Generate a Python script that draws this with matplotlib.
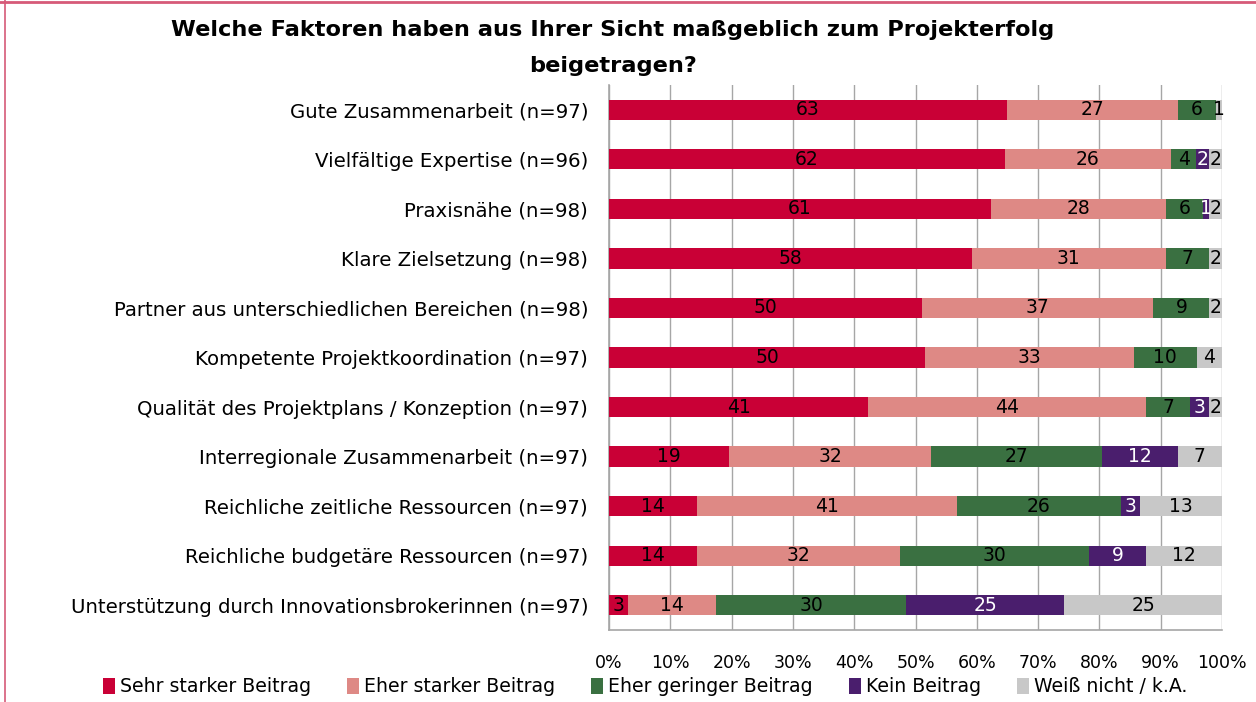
import matplotlib
matplotlib.use("Agg")
import matplotlib.pyplot as plt
import numpy as np
from matplotlib.patches import Patch
from matplotlib.lines import Line2D

categories = [
    "Gute Zusammenarbeit (n=97)",
    "Vielfältige Expertise (n=96)",
    "Praxisnähe (n=98)",
    "Klare Zielsetzung (n=98)",
    "Partner aus unterschiedlichen Bereichen (n=98)",
    "Kompetente Projektkoordination (n=97)",
    "Qualität des Projektplans / Konzeption (n=97)",
    "Interregionale Zusammenarbeit (n=97)",
    "Reichliche zeitliche Ressourcen (n=97)",
    "Reichliche budgetäre Ressourcen (n=97)",
    "Unterstützung durch Innovationsbrokerinnen (n=97)",
]
series_names = ["Sehr starker Beitrag", "Eher starker Beitrag", "Eher geringer Beitrag",
                "Kein Beitrag", "Weiß nicht / k.A."]
sehr_stark = [63, 62, 61, 58, 50, 50, 41, 19, 14, 14, 3]
eher_stark = [27, 26, 28, 31, 37, 33, 44, 32, 41, 32, 14]
eher_gering = [6, 4, 6, 7, 9, 10, 7, 27, 26, 30, 30]
kein = [0, 2, 1, 0, 0, 0, 3, 12, 3, 9, 25]
weiss_nicht = [1, 2, 2, 2, 2, 4, 2, 7, 13, 12, 25]
x_ticks = [0, 10, 20, 30, 40, 50, 60, 70, 80, 90, 100]
x_tick_labels = ["0%", "10%", "20%", "30%", "40%", "50%", "60%", "70%", "80%", "90%", "100%"]
title = "Welche Faktoren haben aus Ihrer Sicht maßgeblich zum Projekterfolg\nbeigetragen?"

colors = ["#C90036", "#DE8985", "#3A7041", "#4A1E6D", "#C8C8C8"]
text_colors = ["black", "black", "black", "white", "black"]

plt.rcParams['font.family'] = ['DejaVu Sans']
fig = plt.figure(figsize=(12.56, 7.02), dpi=100)
ax = fig.add_axes([609/1256, 1-630/702, (1222-609)/1256, (630-85)/702])

data = np.array([sehr_stark, eher_stark, eher_gering, kein, weiss_nicht], dtype=float)
totals = data.sum(axis=0)
pct = data / totals * 100
y = np.arange(len(categories))
left = np.zeros(len(categories))
for i in range(len(series_names)):
    ax.barh(y, pct[i], left=left, height=0.41, color=colors[i], zorder=3,
            edgecolor="none", label=series_names[i])
    for j in range(len(categories)):
        if data[i, j] > 0:
            ax.text(left[j] + pct[i, j] / 2, y[j], f"{int(data[i, j])}",
                    ha="center", va="center", fontsize=13.5, color=text_colors[i], zorder=4)
    left += pct[i]

ax.set_ylim(len(categories) - 0.5, -0.5)
ax.set_xlim(0, 100)
ax.set_yticks(y)
ax.set_yticklabels(categories, fontsize=14.2)
ax.set_xticks(x_ticks)
ax.set_xticklabels(x_tick_labels, fontsize=12.5)
ax.tick_params(axis="both", length=0)
ax.tick_params(axis="y", pad=15)
ax.tick_params(axis="x", pad=17)
ax.grid(axis="x", color="#A6A6A6", linewidth=1, zorder=0)
for s in ["top", "right"]:
    ax.spines[s].set_visible(False)
for s in ["left", "bottom"]:
    ax.spines[s].set_color("#A6A6A6")
    ax.spines[s].set_linewidth(1.2)

fig.text(613/1256, 1-48/702, title, ha="center", va="center", fontsize=16.2,
         fontweight="bold", linespacing=2.0)

handles = [Patch(facecolor=c, edgecolor="none") for c in colors]
fig.legend(handles, series_names, loc="center", bbox_to_anchor=(645/1256, 1-687/702),
           ncol=5, frameon=False, fontsize=13.6, handlelength=0.65, handleheight=0.9,
           handletextpad=0.25, columnspacing=1.9)

# decorative frame
fig.add_artist(Line2D([0, 1], [0.997, 0.997], transform=fig.transFigure, color="#D65A78", linewidth=2))
fig.add_artist(Line2D([5/1256, 5/1256], [0, 1], transform=fig.transFigure, color="#D65A78", linewidth=1.2))

fig.savefig("out.png", dpi=100)
